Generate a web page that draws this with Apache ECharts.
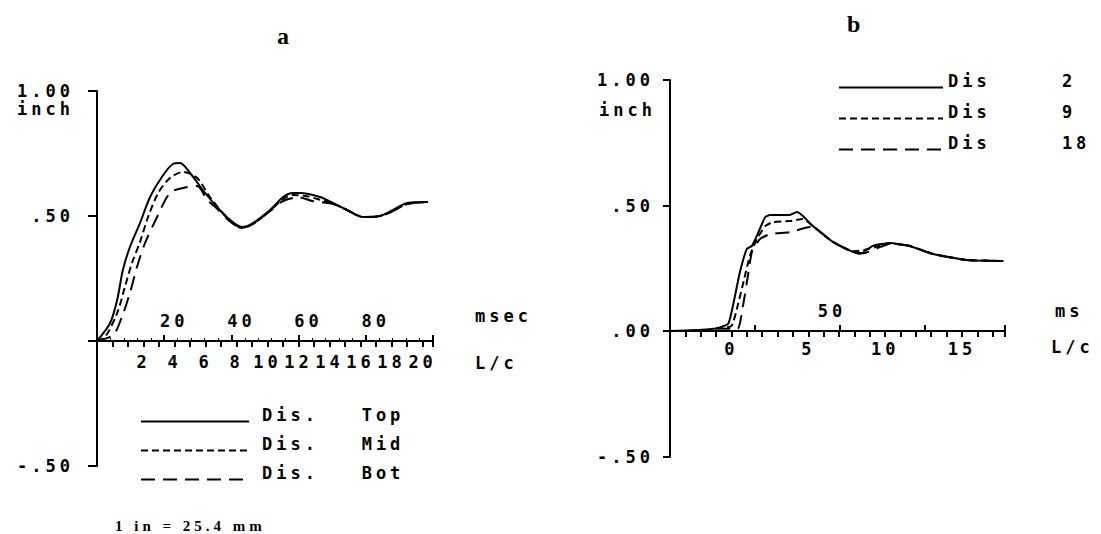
<!DOCTYPE html>
<html>
<head>
<meta charset="utf-8">
<script src="https://cdn.jsdelivr.net/npm/echarts@6/dist/echarts.min.js"></script>
<style>
html,body{margin:0;padding:0;background:#fff;}
#c{width:1101px;height:534px;}
#c svg text{letter-spacing:4px;white-space:pre;}
</style>
</head>
<body>
<div id="c"></div>
<script>
// ---- Panel a (x in msec, y in inch) ----
const aTopT = [0, 3.9, 6.0, 7.7, 9.8, 12.8, 15.8, 19.3, 22.6, 24.7, 27.7, 31.5, 35.7, 39.6, 43.2, 46.4, 51.5, 55.4, 58.3, 60.4, 66.4, 70.2, 74.4, 79.2, 84.2, 88.1, 92.3, 98.5];
const aTopV = [0, 0.072, 0.164, 0.284, 0.376, 0.472, 0.576, 0.656, 0.708, 0.712, 0.672, 0.604, 0.536, 0.484, 0.456, 0.472, 0.524, 0.576, 0.592, 0.592, 0.576, 0.552, 0.524, 0.496, 0.500, 0.524, 0.552, 0.556];
const aMidT = [0, 2.4, 6.0, 8.3, 10.4, 12.8, 15.2, 18.2, 21.7, 25.6, 29.8, 33.6, 39.6, 43.2, 46.4, 51.5, 55.4, 58.3, 62.0, 66.4, 70.2, 74.4, 79.2, 84.2, 88.1, 92.3, 98.5];
const aMidV = [0, 0.016, 0.112, 0.216, 0.312, 0.396, 0.496, 0.592, 0.652, 0.676, 0.652, 0.576, 0.480, 0.452, 0.468, 0.520, 0.568, 0.584, 0.580, 0.565, 0.550, 0.524, 0.496, 0.500, 0.520, 0.548, 0.556];
const aBotT = [0, 4.8, 7.4, 9.8, 11.9, 14.3, 17.9, 21.7, 25.6, 29.8, 32.7, 35.7, 39.6, 43.2, 46.4, 51.5, 55.4, 60.0, 64.0, 70.2, 74.4, 79.2, 84.2, 88.1, 92.3, 98.5];
const aBotV = [0, 0.024, 0.096, 0.192, 0.296, 0.392, 0.496, 0.592, 0.612, 0.620, 0.566, 0.530, 0.478, 0.452, 0.468, 0.520, 0.560, 0.575, 0.560, 0.548, 0.524, 0.496, 0.500, 0.520, 0.548, 0.556];
const aNames = ['Dis.   Top', 'Dis.   Mid', 'Dis.   Bot'];

// ---- Panel b (x in L/c, y in inch) ----
const b2T = [-4, -2, -1, -0.2, 0.23, 0.55, 1.0, 1.33, 1.7, 2.2, 2.5, 3.8, 4.26, 4.65, 5.3, 6.6, 7.9, 8.36, 9.2, 10.3, 11.6, 13.1, 15.3, 17.7];
const b2V = [0, 0.005, 0.01, 0.03, 0.14, 0.235, 0.327, 0.339, 0.386, 0.454, 0.462, 0.462, 0.474, 0.458, 0.418, 0.355, 0.315, 0.307, 0.339, 0.351, 0.339, 0.307, 0.283, 0.279];
const b9T = [-1, 0, 0.4, 0.8, 1.2, 1.65, 2.2, 2.7, 3.8, 4.65, 5.3, 6.6, 7.9, 8.6, 9.7, 10.3, 11.6, 13.1, 15.3, 17.7];
const b9V = [0.01, 0.02, 0.1, 0.2, 0.3, 0.366, 0.418, 0.434, 0.438, 0.446, 0.418, 0.355, 0.318, 0.322, 0.340, 0.350, 0.339, 0.307, 0.283, 0.279];
const b18T = [-1, 0.4, 0.75, 1.07, 1.33, 1.85, 2.5, 3.8, 5.1, 5.55, 6.6, 7.9, 8.6, 9.7, 10.3, 11.6, 13.1, 15.3, 17.7];
const b18V = [0.01, 0.008, 0.1, 0.22, 0.315, 0.366, 0.386, 0.394, 0.414, 0.406, 0.355, 0.315, 0.31, 0.335, 0.348, 0.339, 0.307, 0.283, 0.279];
const bNames = ['Dis     2', 'Dis     9', 'Dis     18'];

// tick label texts
const yLabelsA = {'1': '1.00', '0.5': '.50', '-0.5': '-.50'};
const yLabelsB = {'1': '1.00', '0.5': '.50', '0': '.00', '-0.5': '-.50'};

const MONO = '"DejaVu Sans Mono", monospace';
const SERIF = '"Liberation Serif", "DejaVu Serif", serif';
const txt = {color: '#000', fontFamily: MONO, fontWeight: 'bold', fontSize: 17};
function black() { return {color: '#000', width: 2}; }

function zip(t, v) { return t.map((x, i) => [x, v[i]]); }
function isInt(v) { return Math.abs(v - Math.round(v)) < 1e-6; }
function yFmt(map) {
  return function (v) { const k = String(Math.round(v * 100) / 100); return map[k] !== undefined ? map[k] : ''; };
}
function T(extra) { return Object.assign({}, txt, extra); }

function lineSeries(name, data, xi, yi, dash, smooth, zeroLine) {
  const s = {
    name: name, type: 'line', data: data, xAxisIndex: xi, yAxisIndex: yi,
    symbol: 'none', smooth: smooth, animation: false, clip: false,
    lineStyle: {color: '#000', width: 2, type: dash},
    itemStyle: {color: '#000'}
  };
  if (zeroLine) {
    // the zero (time) axis line drawn through the value scale
    s.markLine = {
      silent: true, symbol: 'none', animation: false,
      label: {show: false},
      lineStyle: {color: '#000', width: 2, type: 'solid'},
      data: [{yAxis: 0}]
    };
  }
  return s;
}
function yAxisDef(grid, min, max, fmt, margin, tickLen, extra) {
  return Object.assign({
    gridIndex: grid, type: 'value', min: min, max: max, interval: 0.5,
    axisLine: {show: true, onZero: false, lineStyle: black()},
    axisTick: {show: true, length: tickLen, lineStyle: black()},
    axisLabel: T({margin: margin, padding: [0, 0, 12, 0], formatter: fmt}),
    splitLine: {show: false}
  }, extra || {});
}

const NOB = {containLabel: false, outerBoundsMode: 'none'};
const chart = echarts.init(document.getElementById('c'), null, {renderer: 'svg'});
chart.setOption({
  backgroundColor: '#fff',
  animation: false,
  title: [
    {text: 'a', left: 277, top: 24, padding: 0, textStyle: {fontFamily: SERIF, fontWeight: 'bold', fontSize: 24, color: '#000'}},
    {text: 'b', left: 847, top: 12, padding: 0, textStyle: {fontFamily: SERIF, fontWeight: 'bold', fontSize: 24, color: '#000'}},
    {text: '1 in = 25.4 mm', left: 115, top: 518, padding: 0, textStyle: {fontFamily: SERIF, fontWeight: 'bold', fontSize: 15, color: '#000'}}
  ],
  legend: [
    {
      orient: 'vertical', left: 140, top: 406, padding: 0, itemWidth: 108, itemHeight: 4, itemGap: -2,
      selectedMode: false, data: aNames, itemStyle: {opacity: 0},
      formatter: n => n + '\n ',
      textStyle: T({lineHeight: 14, padding: [0, 0, 0, 8]})
    },
    {
      orient: 'vertical', left: 838, top: 72, padding: 0, itemWidth: 104, itemHeight: 4, itemGap: 0,
      selectedMode: false, data: bNames, itemStyle: {opacity: 0},
      formatter: n => n + '\n ',
      textStyle: T({lineHeight: 14})
    }
  ],
  grid: [
    Object.assign({left: 97, top: 91, width: 336, height: 250}, NOB),   // a, 0..1
    Object.assign({left: 97, top: 341, width: 336, height: 125}, NOB),  // a, -0.5..0
    Object.assign({left: 670, top: 80, width: 335, height: 251}, NOB),  // b, 0..1
    Object.assign({left: 670, top: 331, width: 335, height: 126}, NOB)  // b, -0.5..0
  ],
  xAxis: [
    { // 0: a L/c (on zero line, labels below)
      gridIndex: 0, type: 'value', position: 'bottom', min: -1, max: 20.67, interval: 1,
      axisLine: {show: true, onZero: true, lineStyle: black()},
      axisTick: {show: true, length: 6, lineStyle: black()},
      axisLabel: T({margin: 12, formatter: v => (isInt(v) && v > 0 && Math.round(v) % 2 === 0) ? String(Math.round(v)) : ''}),
      splitLine: {show: false},
      name: 'L/c', nameLocation: 'end', nameGap: 42,
      nameTextStyle: T({align: 'left', verticalAlign: 'top', lineHeight: 44})
    },
    { // 1: a msec (data axis, hidden)
      gridIndex: 0, type: 'value', position: 'top', min: 0, max: 100, show: false
    },
    { // 2: a msec (on zero line, labels above)
      gridIndex: 1, type: 'value', position: 'top', min: 0, max: 100, interval: 20,
      axisLine: {show: true, onZero: true, lineStyle: black()},
      axisTick: {show: true, length: 6, lineStyle: black()},
      minorTick: {show: true, splitNumber: 5, length: 3, lineStyle: {color: '#000', width: 1}},
      axisLabel: T({margin: 12, padding: [0, 0, 0, 20], formatter: v => (v > 0 && v < 100) ? String(v) : ''}),
      splitLine: {show: false},
      name: 'msec', nameLocation: 'end', nameGap: 42,
      nameTextStyle: T({align: 'left', verticalAlign: 'bottom', lineHeight: 50})
    },
    { // 3: b L/c (data axis, on zero line, labels below)
      gridIndex: 2, type: 'value', position: 'bottom', min: -4, max: 17.8, interval: 1,
      axisLine: {show: true, onZero: true, lineStyle: black()},
      axisTick: {show: true, length: 6, lineStyle: black()},
      axisLabel: T({margin: 9, formatter: v => (isInt(v) && Math.round(v) >= 0 && Math.round(v) % 5 === 0) ? String(Math.round(v)) : ''}),
      splitLine: {show: false},
      name: 'L/c', nameLocation: 'end', nameGap: 46,
      nameTextStyle: T({align: 'left', verticalAlign: 'top', lineHeight: 32})
    },
    { // 4: b ms (on zero line, labels above)
      gridIndex: 3, type: 'value', position: 'top', min: -50, max: 147, interval: 50,
      axisLine: {show: true, onZero: true, lineStyle: black()},
      axisTick: {show: true, length: 6, lineStyle: black()},
      axisLabel: T({margin: 12, padding: [0, 16, 0, 0], formatter: v => (v === 50) ? '50' : ''}),
      splitLine: {show: false},
      name: 'ms', nameLocation: 'end', nameGap: 50,
      nameTextStyle: T({align: 'left', verticalAlign: 'bottom', lineHeight: 40})
    }
  ],
  yAxis: [
    yAxisDef(0, 0, 1, yFmt(yLabelsA), 23, 9, {
      name: 'inch', nameLocation: 'end', nameGap: -18,
      nameTextStyle: T({align: 'right', verticalAlign: 'middle', padding: [0, 23, 0, 0]})
    }),
    yAxisDef(1, -0.5, 0, v => (v < -0.25 ? yLabelsA['-0.5'] : ''), 23, 9),
    yAxisDef(2, 0, 1, yFmt(yLabelsB), 16, 7, {
      name: 'inch', nameLocation: 'end', nameGap: -30,
      nameTextStyle: T({align: 'right', verticalAlign: 'middle', padding: [0, 14, 0, 0]})
    }),
    yAxisDef(3, -0.5, 0, v => (v < -0.25 ? yLabelsB['-0.5'] : ''), 16, 7)
  ],
  series: [
    lineSeries(aNames[0], zip(aTopT, aTopV), 1, 0, 'solid', 0.3, true),
    lineSeries(aNames[1], zip(aMidT, aMidV), 1, 0, [7, 4], 0.3),
    lineSeries(aNames[2], zip(aBotT, aBotV), 1, 0, [14, 8], 0.3),
    lineSeries(bNames[0], zip(b2T, b2V), 3, 2, 'solid', 0.15, true),
    lineSeries(bNames[1], zip(b9T, b9V), 3, 2, [7, 4], 0.15),
    lineSeries(bNames[2], zip(b18T, b18V), 3, 2, [14, 8], 0.15)
  ]
});
</script>
</body>
</html>
